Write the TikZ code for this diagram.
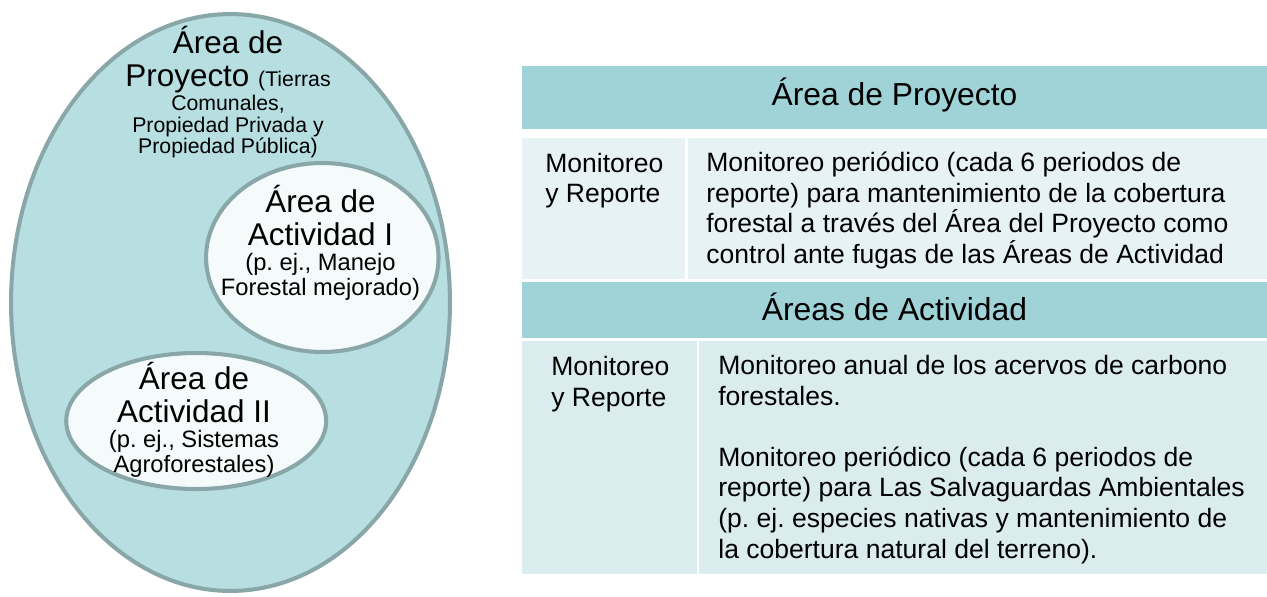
\documentclass[tikz,border=0pt]{standalone}
\usepackage{fontspec}
\setmainfont{Liberation Sans}
\usetikzlibrary{shapes.geometric}
\frenchspacing

\definecolor{headteal}{RGB}{160,211,216}
\definecolor{rowlight}{RGB}{231,242,244}
\definecolor{rowmid}{RGB}{218,236,238}
\definecolor{areafill}{RGB}{183,223,226}
\definecolor{arearim}{RGB}{137,166,168}
\definecolor{actfill}{RGB}{245,250,251}

\newcommand\areabig{\fontsize{17.9}{21}\selectfont}
\newcommand\areasmall{\fontsize{12.1}{14}\selectfont}
\newcommand\actsmall{\fontsize{13.5}{16}\selectfont}
\newcommand\tabfont{\fontsize{15.1}{17.4}\selectfont}
\newcommand\headfont{\fontsize{18.1}{21}\selectfont}

\tikzset{
  areaell/.style={ellipse, draw=arearim, line width=2.3pt, inner sep=0pt},
  lbl/.style={anchor=base, inner sep=0pt},
  % multi-line cells sit on the baseline of their last line
  celltext/.style={anchor=base west, align=left, inner sep=0pt, font=\tabfont}
}

\begin{document}
\begin{tikzpicture}[x=0.02cm,y=-0.02cm]
\useasboundingbox (0,0) rectangle (1267,596);

% areas
\node[areaell, fill=areafill, minimum width=8.78cm, minimum height=11.54cm] (proj) at (230.5,302.5) {};
\node[areaell, fill=actfill, minimum width=4.65cm, minimum height=3.78cm] (act1) at (322.3,257.5) {};
\node[areaell, fill=actfill, minimum width=5.2cm, minimum height=2.72cm] (act2) at (196.2,421) {};

\node[lbl] (p1) at (228,53.5) {\areabig Área de};
\node[lbl] (p2) at (228,86) {\areabig Proyecto {\areasmall(Tierras}};
\node[lbl] (p3) at (228,110.7) {\areasmall Comunales,};
\node[lbl] (p4) at (228,132.7) {\areasmall Propiedad Privada y};
\node[lbl] (p5) at (228,153.3) {\areasmall Propiedad Pública)};

\node[lbl] (a11) at (320.5,212.3) {\areabig Área de};
\node[lbl] (a12) at (320.5,245.7) {\areabig Actividad I};
\node[lbl] (a13) at (320.5,270.7) {\actsmall (p. ej., Manejo};
\node[lbl] (a14) at (320.5,295.3) {\actsmall Forestal mejorado)};

\node[lbl] (a21) at (194,389.3) {\areabig Área de};
\node[lbl] (a22) at (194,422) {\areabig Actividad II};
\node[lbl] (a23) at (194,447.3) {\actsmall (p. ej., Sistemas};
\node[lbl] (a24) at (194,472) {\actsmall Agroforestales)};

% table
\fill[headteal] (522,66) rectangle (1267,128.5);
\fill[rowlight] (522,137.7) rectangle (685,278.7);
\fill[rowlight] (688.3,137.7) rectangle (1267,278.7);
\fill[headteal] (522,282) rectangle (1267,337.7);
\fill[rowmid] (522,341) rectangle (696.7,574.3);
\fill[rowmid] (699.3,341) rectangle (1267,574.3);

\node[lbl, font=\headfont] (h1) at (894.5,105) {Área de Proyecto};
\node[celltext] (m1) at (545,202.7) {Monitoreo\\y Reporte};
\node[celltext] (d1) at (706,263.4) {Monitoreo periódico (cada 6 periodos de\\reporte) para mantenimiento de la cobertura\\forestal a través del Área del Proyecto como\\control ante fugas de las Áreas de Actividad};

\node[lbl, font=\headfont] (h2) at (894.5,320.7) {Áreas de Actividad};
\node[celltext] (m2) at (551,406) {Monitoreo\\y Reporte};
\node[celltext] (d2) at (718,558) {Monitoreo anual de los acervos de carbono\\forestales.\\[17.4pt]Monitoreo periódico (cada 6 periodos de\\reporte) para Las Salvaguardas Ambientales\\(p. ej. especies nativas y mantenimiento de\\la cobertura natural del terreno).};
\end{tikzpicture}
\end{document}
